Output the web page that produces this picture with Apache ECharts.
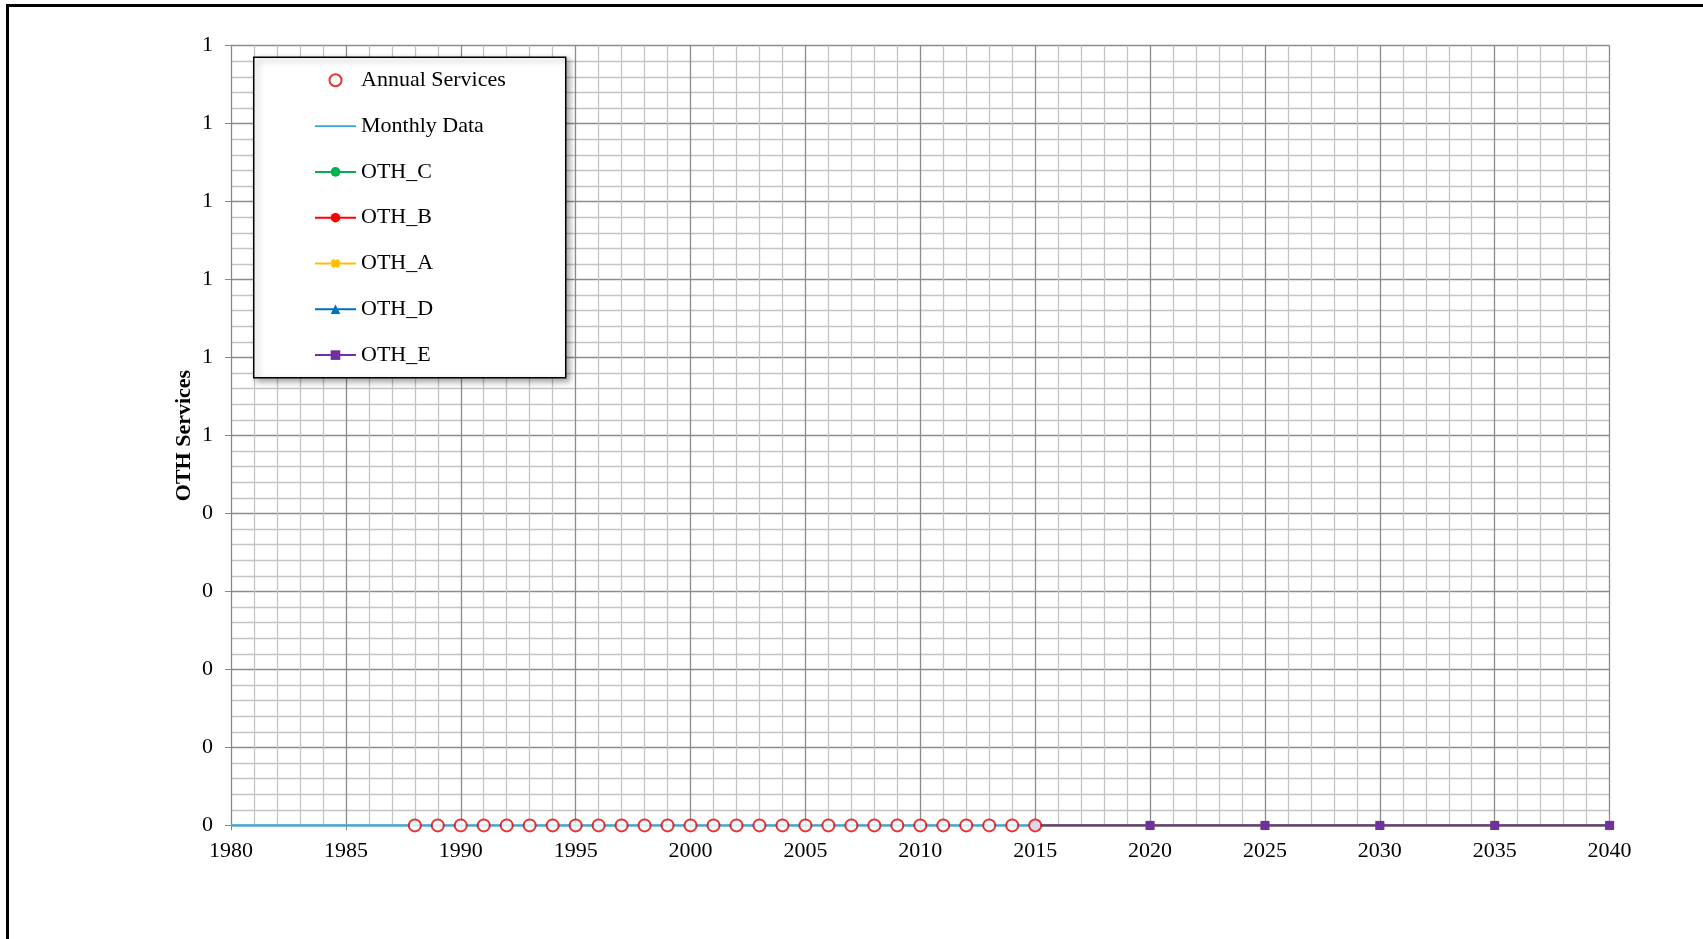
<!DOCTYPE html>
<html>
<head>
<meta charset="utf-8">
<script src="https://cdn.jsdelivr.net/npm/echarts@6/dist/echarts.min.js"></script>
<style>
html,body{margin:0;padding:0;background:#fff;}
#chart{width:1703px;height:939px;}
</style>
</head>
<body>
<div id="chart"></div>
<script>
// ---- data ----
const monthlyYears = [1980,1981,1982,1983,1984,1985,1986,1987,1988,1989,1990,1991,1992,1993,1994,1995,1996,1997,1998,1999,2000,2001,2002,2003,2004,2005,2006,2007,2008,2009,2010,2011,2012,2013,2014,2015];
const monthlyValues = [0,0,0,0,0,0,0,0,0,0,0,0,0,0,0,0,0,0,0,0,0,0,0,0,0,0,0,0,0,0,0,0,0,0,0,0];
const annualYears = [1988,1989,1990,1991,1992,1993,1994,1995,1996,1997,1998,1999,2000,2001,2002,2003,2004,2005,2006,2007,2008,2009,2010,2011,2012,2013,2014,2015];
const annualValues = [0,0,0,0,0,0,0,0,0,0,0,0,0,0,0,0,0,0,0,0,0,0,0,0,0,0,0,0];
const forecastYears = [2015,2020,2025,2030,2035,2040];
const othC = [0,0,0,0,0,0];
const othB = [0,0,0,0,0,0];
const othA = [0,0,0,0,0,0];
const othD = [0,0,0,0,0,0];
const othE = [0,0,0,0,0,0];
const legendNames = ['Annual Services','Monthly Data','OTH_C','OTH_B','OTH_A','OTH_D','OTH_E'];

const pair = (xs, ys) => xs.map((x, i) => [x, ys[i]]);
const FONT = '"Liberation Serif", "Times New Roman", serif';
const FS = 22;

const chart = echarts.init(document.getElementById('chart'));

function othSeries(name, data, color, symbol, size) {
  return {
    name: name, type: 'line', data: pair(forecastYears, data),
    symbol: symbol, symbolSize: size, showSymbol: true,
    lineStyle: {color: color, width: 2},
    itemStyle: {color: color},
    z: 3
  };
}

const legendData = legendNames.map(n => n === 'Monthly Data'
  ? {name: n, icon: 'path://M0,0 L40,0 L40,1.6 L0,1.6 Z'}
  : {name: n});

chart.setOption({
  animation: false,
  backgroundColor: '#fff',
  textStyle: {fontFamily: FONT},
  grid: {left: 231, top: 45.6, right: 93.4, bottom: 113.6, containLabel: false},
  xAxis: {
    type: 'value', min: 1980, max: 2040, interval: 5,
    axisLine: {show: true, onZero: false, lineStyle: {color: '#888', width: 1}},
    axisTick: {show: true, length: 5, lineStyle: {color: '#888'}},
    axisLabel: {color: '#000', fontSize: FS, fontFamily: FONT, margin: 15, formatter: v => String(v)},
    splitLine: {show: true, lineStyle: {color: '#8c8c8c', width: 1.3}},
    minorTick: {show: false, splitNumber: 5},
    minorSplitLine: {show: true, lineStyle: {color: '#c4c4c4', width: 1.3}}
  },
  yAxis: {
    type: 'value', min: 0, max: 1, interval: 0.1,
    name: 'OTH Services', nameLocation: 'middle', nameGap: 36, nameMoveOverlap: false,
    nameTextStyle: {color: '#000', fontSize: FS, fontWeight: 'bold', fontFamily: FONT},
    axisLine: {show: true, lineStyle: {color: '#888', width: 1}},
    axisTick: {show: true, length: 6, lineStyle: {color: '#888'}},
    axisLabel: {color: '#000', fontSize: FS, fontFamily: FONT, margin: 18, formatter: v => String(Math.round(v))},
    splitLine: {show: true, lineStyle: {color: '#8c8c8c', width: 1.3}},
    minorTick: {show: false, splitNumber: 5},
    minorSplitLine: {show: true, lineStyle: {color: '#c4c4c4', width: 1.3}}
  },
  legend: {
    data: legendData,
    orient: 'vertical', left: 314, top: 69.3, padding: 0,
    itemWidth: 41, itemHeight: 12, itemGap: 23.8, symbolKeepAspect: true,
    textStyle: {fontSize: FS, lineHeight: 20, color: '#000', fontFamily: FONT},
    backgroundColor: 'transparent', z: 20
  },
  graphic: [
    {type: 'rect', left: 253, top: 56.5, z: 10, shape: {width: 312, height: 320.5},
     style: {fill: '#fff', stroke: '#000', lineWidth: 1.5, shadowBlur: 6, shadowOffsetX: 3, shadowOffsetY: 3, shadowColor: 'rgba(0,0,0,0.35)'}},
    {type: 'rect', left: 5, top: 3, z: 30, shape: {width: 1720, height: 960},
     style: {fill: 'none', stroke: '#000', lineWidth: 3}}
  ],
  series: [
    {name: 'Monthly Data', type: 'line', data: pair(monthlyYears, monthlyValues),
     showSymbol: false, symbol: 'none', lineStyle: {color: '#3aa7d6', width: 2.5}, itemStyle: {color: '#3aa7d6'}, z: 2},
    othSeries('OTH_C', othC, '#00b050', 'circle', 8),
    othSeries('OTH_B', othB, '#ff0000', 'circle', 8),
    othSeries('OTH_A', othA, '#ffc000', 'path://M0,3 L3,0 L5,2 L7,0 L10,3 L8,5 L10,7 L7,10 L5,8 L3,10 L0,7 L2,5 Z', 10),
    othSeries('OTH_D', othD, '#0070c0', 'triangle', 9),
    othSeries('OTH_E', othE, '#7030a0', 'rect', 9),
    {name: 'Annual Services', type: 'scatter', data: pair(annualYears, annualValues),
     symbol: 'emptyCircle', symbolSize: 12,
     itemStyle: {color: '#e00000', borderColor: '#e00000', borderWidth: 2.5}, z: 5}
  ]
});
</script>
</body>
</html>
